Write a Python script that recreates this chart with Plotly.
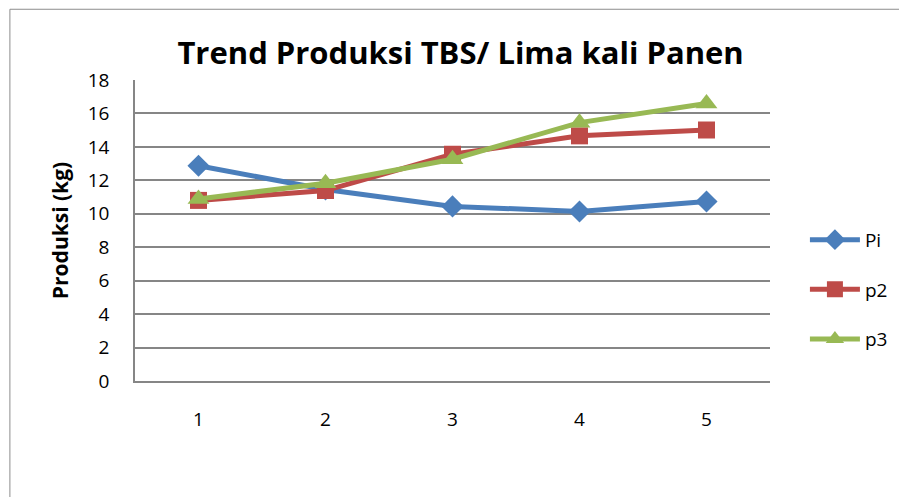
import plotly.graph_objects as go

categories = [1, 2, 3, 4, 5]
tick_labels = ["1", "2", "3", "4", "5"]
pi_values = [12.87, 11.45, 10.44, 10.14, 10.73]
p2_values = [10.8, 11.39, 13.56, 14.66, 15.01]
p3_values = [10.88, 11.83, 13.26, 15.45, 16.6]
series_names = ["Pi", "p2", "p3"]

colors = ["#4A7EBB", "#BE4B48", "#98B954"]
symbols = ["diamond", "square", "triangle-up"]
sizes = [17, 17, 19]

fig = go.Figure()
for i, (name, vals) in enumerate(zip(series_names, [pi_values, p2_values, p3_values])):
    fig.add_trace(go.Scatter(
        x=categories, y=vals, name=name, mode="lines+markers",
        legendgroup=name,
        line=dict(color=colors[i], width=5),
        marker=dict(symbol=symbols[i], size=sizes[i], color=colors[i]),
    ))

font_family = "Open Sans, Liberation Sans, sans-serif"

fig.update_layout(
    width=907, height=497,
    margin=dict(l=127, r=145, t=72, b=123.5),
    paper_bgcolor="white", plot_bgcolor="white",
    title=dict(text="<b>Trend Produksi TBS/ Lima kali Panen</b>",
               font=dict(family=font_family, size=31, color="black"),
               x=0.499, xanchor="center", y=0.91, yanchor="middle"),
    font=dict(family=font_family, size=19, color="black"),
    showlegend=True,
    legend=dict(x=1.055, xanchor="left", y=0.303, yanchor="middle",
                tracegroupgap=22, itemwidth=50, font=dict(size=19, family=font_family),
                bgcolor="rgba(0,0,0,0)"),
    xaxis=dict(range=[0.5, 5.5], tickvals=categories, ticktext=tick_labels,
               showgrid=False, showline=True, linecolor="#868686", linewidth=1.5,
               zeroline=False, ticks="", ticklabelstandoff=20,
               tickfont=dict(size=19)),
    yaxis=dict(range=[0, 18], dtick=2, showgrid=True, gridcolor="#868686", gridwidth=1.5,
               showline=True, linecolor="#868686", linewidth=1.5, zeroline=False,
               ticks="", ticklabelstandoff=20, tickfont=dict(size=19),
               title=dict(text="<b>Produksi (kg)</b>", font=dict(size=21), standoff=13)),
)

fig.add_shape(type="rect", xref="paper", yref="paper",
              x0=-0.197, y0=-0.6, x1=1.6, y1=1.235,
              line=dict(color="#8C8C8C", width=1), layer="below")

fig.write_html("out.html")
